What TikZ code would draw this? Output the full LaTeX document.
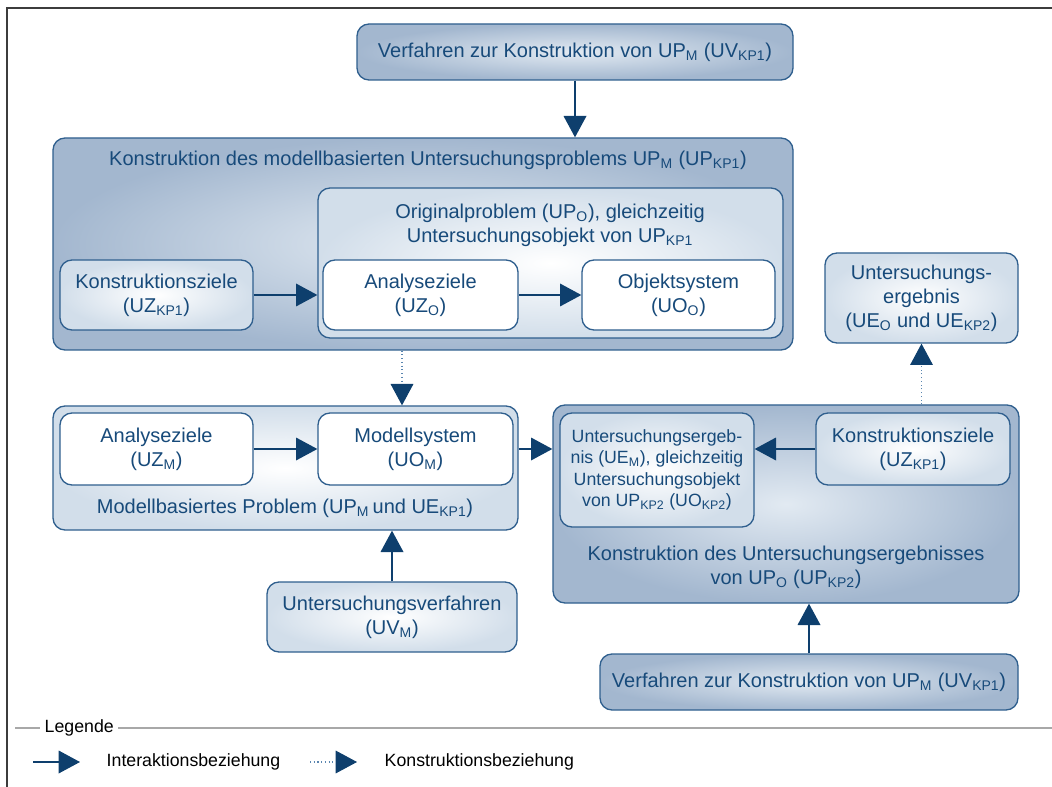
\documentclass[tikz,border=0pt]{standalone}
\usepackage{fontspec}
\setmainfont{Liberation Sans}
\usetikzlibrary{arrows.meta,fit}

\definecolor{txtblue}{HTML}{174A7A}
\definecolor{boxline}{HTML}{2F5F8E}
\definecolor{arrblue}{HTML}{0E3F6D}
\definecolor{dotblue}{HTML}{5A86B0}
\definecolor{darkin}{HTML}{E2EAF2}
\definecolor{darkout}{HTML}{A3B7CF}
\definecolor{lightout}{HTML}{D2DEEA}
\definecolor{framegray}{HTML}{3C3C3C}
\definecolor{leggray}{HTML}{A8A8A8}

\newcommand{\sbs}[1]{\textsubscript{#1}}

\begin{document}
\begin{tikzpicture}[x=0.75pt, y=-0.75pt,
        box/.style={draw=boxline, line width=1pt, rounded corners=9pt, inner sep=0pt},
        darkbox/.style={box, inner color=darkin, outer color=darkout},
        lightbox/.style={box, inner color=white, outer color=lightout},
        whitebox/.style={box, fill=white},
        title/.style={align=center, text=txtblue, font=\fontsize{15}{18}\selectfont},
        small/.style={title, font=\fontsize{13.3}{16}\selectfont},
        arr/.style={draw=arrblue, line width=1pt, -{Triangle[length=16pt, width=17pt]}},
        dotarr/.style={draw=dotblue, line width=0.8pt, dotted,
                -{Triangle[length=16pt, width=17pt, color=arrblue, fill=arrblue]}}]
        \useasboundingbox (0,0) rectangle (1052,787);
        \draw[framegray, line width=1.2pt] (7,787) -- (7,8) -- (1052,8);

        % upper part
        \node[darkbox, fit={(357,24) (793,80)},
                label={[title]center:{Verfahren zur Konstruktion von UP\sbs{M} (UV\sbs{KP1})}}] (v1) {};
        \node[darkbox, fit={(53,138) (793,350)}] (k1) {};
        \node[title] (k1t) at (428,160) {Konstruktion des modellbasierten Untersuchungsproblems UP\sbs{M} (UP\sbs{KP1})};
        \node[lightbox, fit={(318,188) (783,338)}] (orig) {};
        \node[title] (origt) at (550,225) {Originalproblem (UP\sbs{O}), gleichzeitig\\Untersuchungsobjekt von UP\sbs{KP1}};
        \node[lightbox, fit={(60,260) (253,330)},
                label={[title]center:{Konstruktionsziele\\(UZ\sbs{KP1})}}] (kz1) {};
        \node[whitebox, fit={(323,260) (518,330)},
                label={[title]center:{Analyseziele\\(UZ\sbs{O})}}] (azo) {};
        \node[whitebox, fit={(582,260) (775,330)},
                label={[title]center:{Objektsystem\\(UO\sbs{O})}}] (os) {};

        \draw[arr] (v1.south) -- (v1.south |- k1.north);
        \draw[arr] (kz1.east) -- (kz1.east -| orig.west);
        \draw[arr] (azo.east) -- (os.west);

        % modell side
        \node[lightbox, fit={(53,406) (518,530)}] (mb) {};
        \node[title] (mbt) at (285,508) {Modellbasiertes Problem (UP\sbs{M}\,und UE\sbs{KP1})};
        \node[whitebox, fit={(60,413) (253,485)},
                label={[title]center:{Analyseziele\\(UZ\sbs{M})}}] (azm) {};
        \node[whitebox, fit={(318,413) (513,485)},
                label={[title]center:{Modellsystem\\(UO\sbs{M})}}] (ms) {};
        \node[lightbox, fit={(267,582) (517,652)},
                label={[title]center:{Untersuchungsverfahren\\(UV\sbs{M})}}] (uv) {};

        \draw[dotarr] (402,0 |- k1.south) -- (402,0 |- mb.north);
        \draw[arr] (azm.east) -- (ms.west);
        \draw[arr] (uv.north) -- (uv.north |- mb.south);

        % result side
        \node[darkbox, fit={(553,405) (1019,603)}] (ke) {};
        \node[title] (ket) at (786,567) {Konstruktion des Untersuchungsergebnisses\\von UP\sbs{O} (UP\sbs{KP2})};
        \node[lightbox, fit={(560,413) (754,527)},
                label={[small]center:{Untersuchungsergeb-\\nis (UE\sbs{M}), gleichzeitig\\Untersuchungsobjekt\\von UP\sbs{KP2} (UO\sbs{KP2})}}] (uem) {};
        \node[lightbox, fit={(816,413) (1010,485)},
                label={[title]center:{Konstruktionsziele\\(UZ\sbs{KP1})}}] (kz2) {};
        \node[lightbox, fit={(825,253) (1018,343)},
                label={[title]center:{Untersuchungs-\\ergebnis\\(UE\sbs{O} und UE\sbs{KP2})}}] (ue) {};
        \node[darkbox, fit={(600,654) (1018,710)},
                label={[title]center:{Verfahren zur Konstruktion von UP\sbs{M} (UV\sbs{KP1})}}] (v2) {};

        \draw[arr] (ms.east -| mb.east) -- (ms.east -| ke.west);
        \draw[arr] (kz2.west) -- (kz2.west -| uem.east);
        \draw[dotarr] (ue.south |- ke.north) -- (ue.south);
        \draw[arr] (v2.north) -- (v2.north |- ke.south);

        % legend
        \node[anchor=west, font=\fontsize{13.3}{16}\selectfont] (leg) at (40,728) {Legende};
        \draw[leggray, line width=1pt] (15,728) -- (leg.west);
        \draw[leggray, line width=1pt] (leg.east) -- (1052,728);
        \coordinate (ia) at (33,762);
        \coordinate (ib) at (80,762);
        \coordinate (ka) at (310,762);
        \coordinate (kb) at (357,762);
        \draw[arr] (ia) -- (ib);
        \draw[dotarr] (ka) -- (kb);
        \node[anchor=west, font=\fontsize{13.3}{16}\selectfont] (iat) at (102,762) {Interaktionsbeziehung};
        \node[anchor=west, font=\fontsize{13.3}{16}\selectfont] (kat) at (380,762) {Konstruktionsbeziehung};
\end{tikzpicture}
\end{document}
